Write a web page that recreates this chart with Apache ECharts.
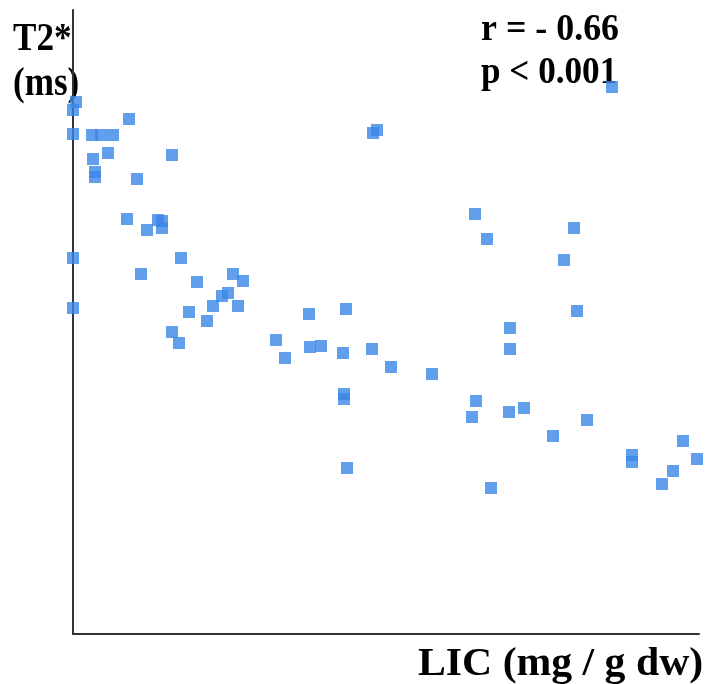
<!DOCTYPE html>
<html>
<head>
<meta charset="utf-8">
<script src="https://cdn.jsdelivr.net/npm/echarts@6/dist/echarts.min.js"></script>
<style>html,body{margin:0;padding:0;background:#fff}#c{width:708px;height:684px}</style>
</head>
<body>
<div id="c"></div>
<script>
// LIC (x) values
var lic = [0.3,0.0,0.0,1.9,2.8,4.0,5.6,3.5,2.0,2.2,2.2,6.4,9.9,5.4,7.4,8.5,8.9,8.9,0.0,10.8,
  6.8,12.4,16.0,17.0,15.5,14.9,14.0,16.5,0.0,11.6,13.4,9.9,10.6,23.6,27.3,20.3,21.2,23.7,24.8,27.0,
  29.9,31.8,35.9,27.1,27.1,27.4,30.0,30.4,53.9,40.2,41.4,50.1,49.1,50.4,43.7,43.7,40.3,39.9,43.6,45.1,
  51.4,48.0,55.9,55.9,61.0,62.4,60.0,58.9,41.8];
// T2* (y) values
var t2 = [53.2,52.4,50.0,49.9,49.9,49.9,51.5,48.1,47.5,46.2,45.7,45.5,47.9,41.5,40.4,41.4,41.3,40.6,37.6,37.6,
  36.0,35.2,36.0,35.3,34.1,33.8,32.8,32.8,32.6,32.2,31.3,30.2,29.1,32.0,32.5,29.4,27.6,28.7,28.8,28.1,
  28.5,26.7,26.0,24.0,23.5,16.6,50.1,50.4,54.7,42.0,39.5,40.6,37.4,32.3,30.6,28.5,23.3,21.7,22.2,22.6,
  21.4,19.8,17.9,17.2,19.3,17.5,16.3,15.0,14.6];
var xRange = [0, 62.6];
var yRange = [0, 62.4];
var texts = ['T2*', '(ms)', 'r = - 0.66', 'p < 0.001', 'LIC (mg / g dw)'];

var pts = lic.map(function(v, i){ return [v, t2[i]]; });
var chart = echarts.init(document.getElementById('c'));
function font(sz) { return 'bold ' + sz + 'px "Liberation Serif", "Times New Roman", serif'; }
var axisCommon = {
  axisLine: {show: true, lineStyle: {color: '#333', width: 2}},
  axisTick: {show: false}, axisLabel: {show: false}, splitLine: {show: false}
};
function txt(s, x, y, sx, sz) {
  return {type: 'text', x: x, y: y, scaleX: sx, z: 0,
    style: {text: s, font: font(sz), fill: '#000', verticalAlign: 'top'}};
}
chart.setOption({
  animation: false,
  grid: {left: 73, right: 9, top: 10, bottom: 50},
  xAxis: Object.assign({type: 'value', min: xRange[0], max: xRange[1]}, axisCommon),
  yAxis: Object.assign({type: 'value', min: yRange[0], max: yRange[1]}, axisCommon),
  graphic: [
    txt(texts[0], 13, 20, 0.9, 39),
    txt(texts[1], 13, 65, 0.9, 39),
    txt(texts[2], 481, 12, 0.97, 37),
    txt(texts[3], 481, 55, 0.95, 37),
    txt(texts[4], 418, 645, 1.07, 39)
  ],
  series: [{
    type: 'scatter', data: pts, symbol: 'rect', symbolSize: 12, clip: false, z: 5,
    itemStyle: {color: '#3a87e8'}
  }]
});
</script>
</body>
</html>
